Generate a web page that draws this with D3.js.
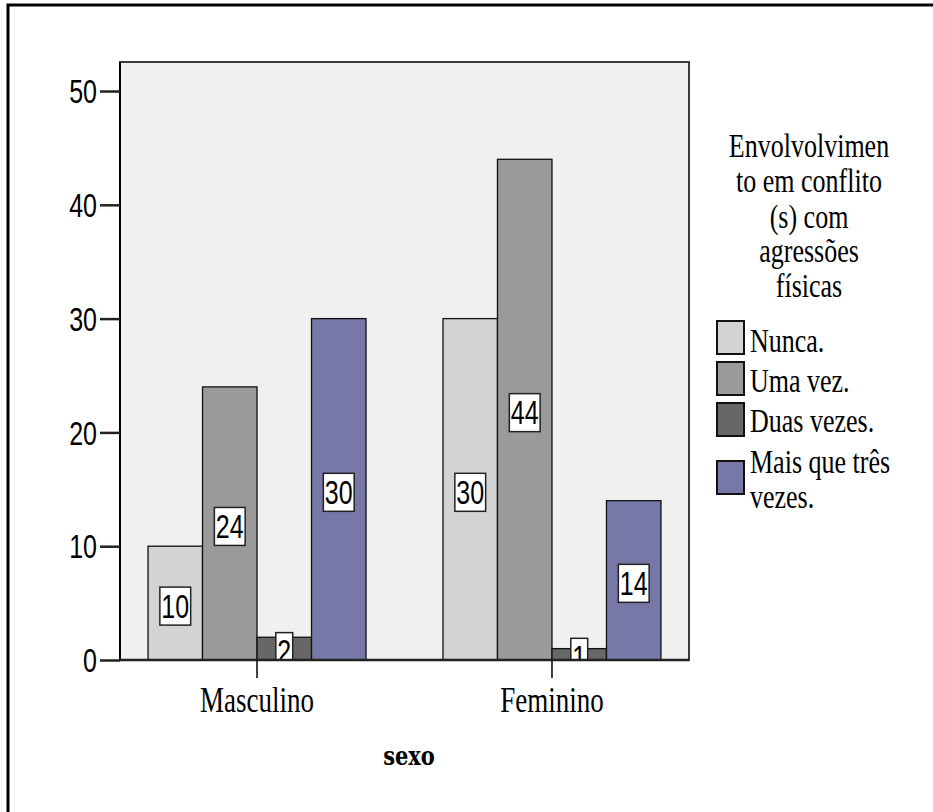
<!DOCTYPE html>
<html>
<head>
<meta charset="utf-8">
<script src="https://cdn.jsdelivr.net/npm/d3@7"></script>
<style>
  html, body { margin: 0; padding: 0; background: #fff; overflow: hidden; }
  svg { display: block; }
</style>
</head>
<body>
<div id="chart"></div>
<script>
// ---- data ----
const categories = ["Masculino", "Feminino"];
const seriesNames = ["Nunca.", "Uma vez.", "Duas vezes.", "Mais que três vezes."];
const nunca = [10, 30];
const umaVez = [24, 44];
const duasVezes = [2, 1];
const maisQueTres = [30, 14];
const yTicks = [0, 10, 20, 30, 40, 50];
const seriesColors = ["#d3d3d3", "#9a9a9a", "#676767", "#7878a8"];
const legendTitleLines = ["Envolvolvimen", "to em conflito", "(s) com", "agressões", "físicas"];
const legendLabelLines = [["Nunca."], ["Uma vez."], ["Duas vezes."], ["Mais que três", "vezes."]];
const xTitle = "sexo";

const seriesValues = [nunca, umaVez, duasVezes, maisQueTres];

// ---- layout ----
const W = 933, H = 812;
const plot = { left: 120, right: 689, top: 62, bottom: 660 };
const K = 1.3; // vertical stretch of text in the reference

const svg = d3.select("#chart").append("svg")
  .attr("width", W).attr("height", H);

// outer frame (top and left edges visible)
svg.append("path")
  .attr("d", `M8,${H}V5H${W}`)
  .attr("fill", "none").attr("stroke", "#000").attr("stroke-width", 3);

const x0 = d3.scaleBand().domain(categories)
  .range([plot.left, plot.right]).paddingInner(0.261).paddingOuter(0.095);
const x1 = d3.scaleBand().domain(seriesNames).range([0, x0.bandwidth()]);
const y = d3.scaleLinear().domain([0, 52.55]).range([plot.bottom, plot.top]);
const color = d3.scaleOrdinal().domain(seriesNames).range(seriesColors);

// plot background
svg.append("rect")
  .attr("x", plot.left).attr("y", plot.top)
  .attr("width", plot.right - plot.left).attr("height", plot.bottom - plot.top)
  .attr("fill", "#f0f0f0").attr("stroke", "#3a3a3a").attr("stroke-width", 2);

svg.append("defs").append("clipPath").attr("id", "plotclip")
  .append("rect")
  .attr("x", plot.left).attr("y", plot.top)
  .attr("width", plot.right - plot.left).attr("height", plot.bottom - plot.top);

// bars
const rows = [];
categories.forEach((c, ci) => {
  seriesNames.forEach((s, si) => {
    rows.push({ cat: c, ser: s, val: seriesValues[si][ci] });
  });
});

const gBars = svg.append("g");
gBars.selectAll("rect.bar").data(rows).join("rect")
  .attr("class", "bar")
  .attr("x", d => x0(d.cat) + x1(d.ser))
  .attr("y", d => y(d.val))
  .attr("width", x1.bandwidth())
  .attr("height", d => y(0) - y(d.val))
  .attr("fill", d => color(d.ser))
  .attr("stroke", "#111").attr("stroke-width", 1.3);

// value labels
const gLab = svg.append("g").attr("clip-path", "url(#plotclip)");
const labFont = "'Liberation Sans', Arial, sans-serif";
const labSize = 25;
rows.forEach(d => {
  const cx = x0(d.cat) + x1(d.ser) + x1.bandwidth() / 2;
  const cy = y(d.val / 2) + 3;
  const g = gLab.append("g").attr("transform", `translate(${cx},${cy})`);
  const t = g.append("text")
    .attr("text-anchor", "middle")
    .attr("font-family", labFont).attr("font-size", labSize)
    .attr("dy", "0.36em")
    .attr("transform", `scale(1,${K})`)
    .attr("fill", "#000")
    .text(d.val);
  const bw = t.node().getComputedTextLength() + 3;
  g.insert("rect", "text")
    .attr("x", -bw / 2).attr("y", -19)
    .attr("width", bw).attr("height", 38)
    .attr("fill", "#fff").attr("stroke", "#222").attr("stroke-width", 1.5);
});

// y axis
const yAxis = d3.axisLeft(y).tickValues(yTicks).tickSize(20).tickPadding(3).tickSizeOuter(0);
const gy = svg.append("g").attr("transform", `translate(${plot.left},0)`).call(yAxis);
gy.select(".domain").attr("stroke", "#000").attr("stroke-width", 2)
  .attr("d", `M0,${plot.top}V${plot.bottom}`);
gy.selectAll(".tick line").attr("stroke", "#222").attr("stroke-width", 2.5);
gy.selectAll(".tick text")
  .attr("font-family", labFont).attr("font-size", labSize)
  .attr("fill", "#000")
  .attr("dy", "0.36em")
  .attr("transform", `scale(1,${K})`);

// x axis
const xAxis = d3.axisBottom(x0).tickSize(18).tickSizeOuter(0).tickFormat("");
const gx = svg.append("g").attr("transform", `translate(0,${plot.bottom})`).call(xAxis);
gx.select(".domain").attr("stroke", "#222").attr("stroke-width", 2.5)
  .attr("d", `M${plot.left},0H${plot.right}`);
gx.selectAll(".tick line").attr("stroke", "#000").attr("stroke-width", 1.5);

const serif = "'Liberation Serif', 'Times New Roman', serif";
categories.forEach(c => {
  svg.append("g").attr("transform", `translate(${x0(c) + x0.bandwidth() / 2},712)`)
    .append("text").attr("text-anchor", "middle")
    .attr("font-family", serif).attr("font-size", 27)
    .attr("transform", `scale(1,${K})`)
    .attr("fill", "#000").text(c);
});

// x title
svg.append("g").attr("transform", `translate(409,765)`)
  .append("text").attr("text-anchor", "middle")
  .attr("font-family", "'DejaVu Serif', serif").attr("font-weight", "bold")
  .attr("font-size", 21)
  .attr("transform", `scale(1,1.25)`)
  .attr("fill", "#000").text(xTitle);

// legend title
const legendTitleBaselines = [157, 192, 228, 262, 297];
legendTitleLines.forEach((l, i) => {
  svg.append("g").attr("transform", `translate(809,${legendTitleBaselines[i]})`)
    .append("text").attr("text-anchor", "middle")
    .attr("font-family", serif).attr("font-size", 26)
    .attr("transform", `scale(1,1.28)`)
    .attr("fill", "#000").text(l);
});

// legend items
const swatchY = [321, 362, 403, 461];
const labelBaselines = [[352], [392], [432], [473, 508]];
seriesNames.forEach((s, i) => {
  svg.append("rect")
    .attr("x", 717).attr("y", swatchY[i])
    .attr("width", 27).attr("height", 33)
    .attr("fill", color(s)).attr("stroke", "#111").attr("stroke-width", 2);
  legendLabelLines[i].forEach((line, j) => {
    svg.append("g").attr("transform", `translate(750,${labelBaselines[i][j]})`)
      .append("text").attr("text-anchor", "start")
      .attr("font-family", serif).attr("font-size", 26)
      .attr("transform", `scale(1,1.28)`)
      .attr("fill", "#000").text(line);
  });
});
</script>
</body>
</html>
